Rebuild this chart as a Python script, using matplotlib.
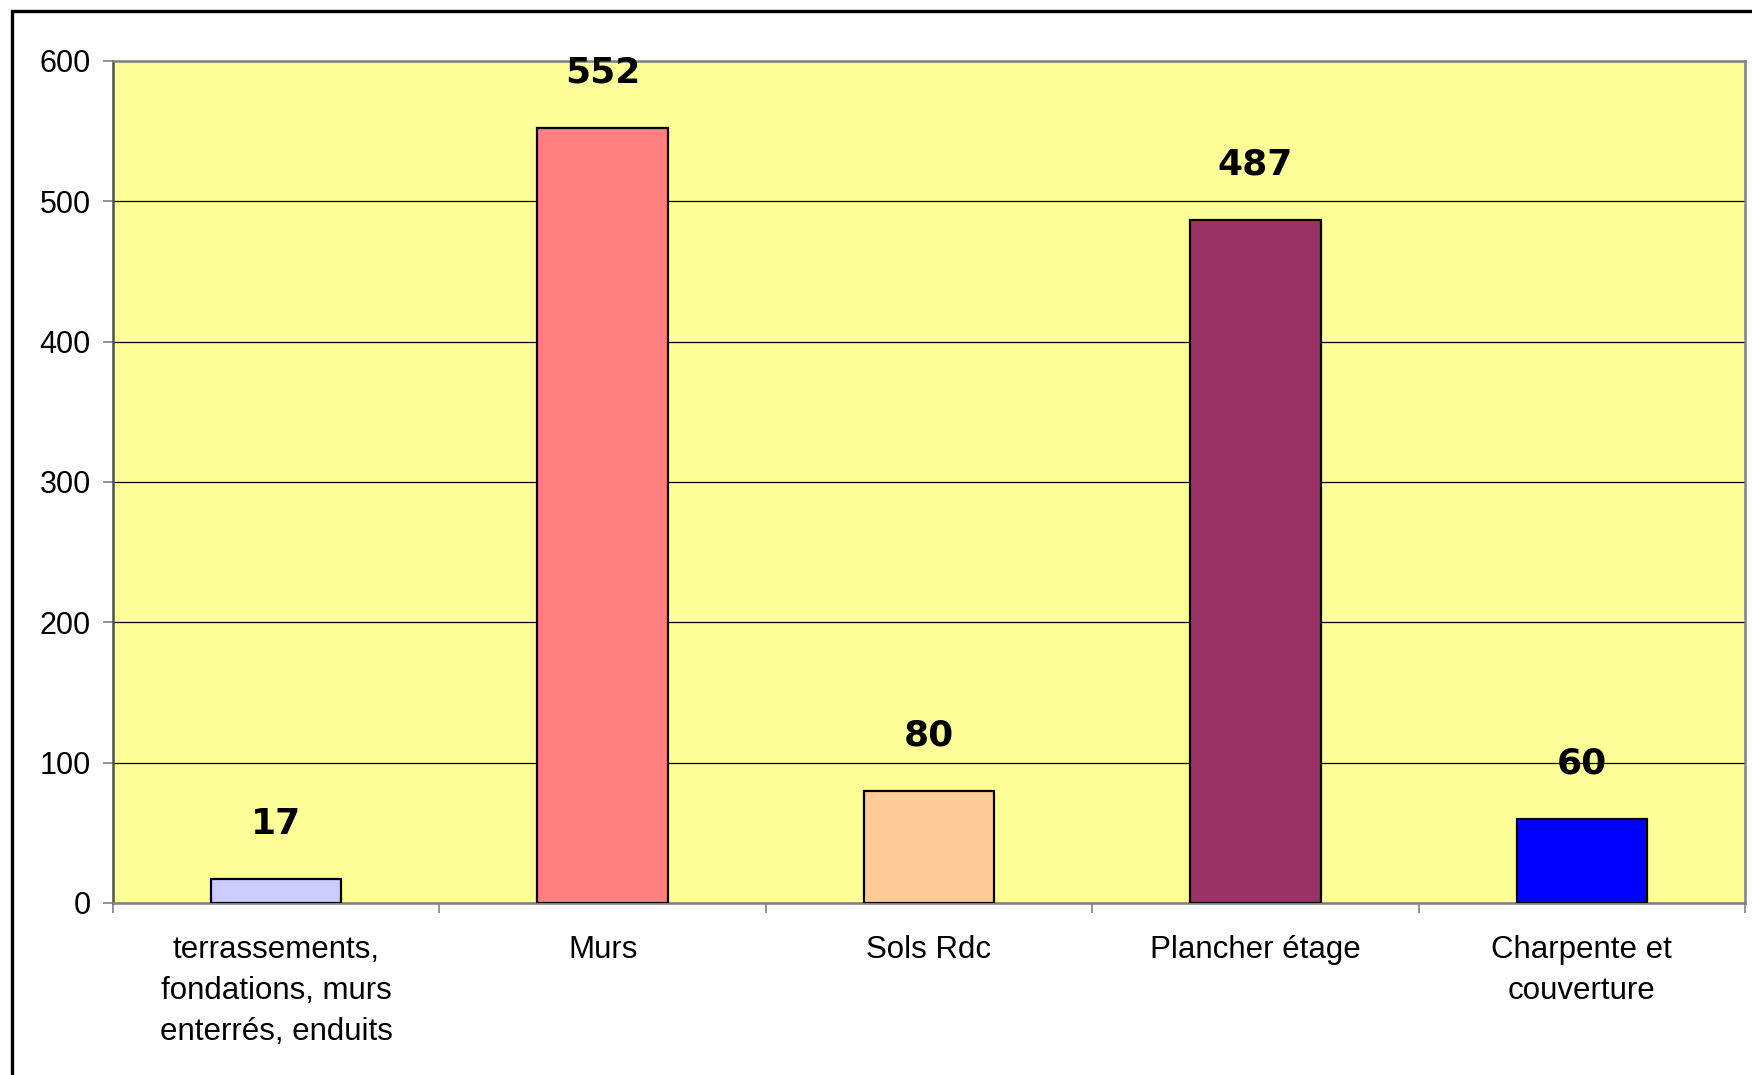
import matplotlib
matplotlib.use("Agg")
import matplotlib.pyplot as plt
from matplotlib.patches import Rectangle
import numpy as np

categories = ["terrassements,\nfondations, murs\nenterrés, enduits", "Murs", "Sols Rdc",
              "Plancher étage", "Charpente et\ncouverture"]
values = [17, 552, 80, 487, 60]
colors = ["#CCCCFF", "#FF8080", "#FFCC99", "#993366", "#0000FF"]
yticks = [0, 100, 200, 300, 400, 500, 600]

W, H = 1752, 1075
fig = plt.figure(figsize=(W / 100, H / 100), dpi=100)
ax = fig.add_axes([113 / W, 1 - 903 / H, (1745 - 113) / W, (903 - 61) / H])
ax.set_facecolor("#FFFF99")

x = np.arange(len(categories))
ax.bar(x, values, width=0.4, color=colors, edgecolor="black", linewidth=1.6, zorder=3)
ax.set_xlim(-0.5, len(categories) - 0.5)
ax.set_ylim(0, 600)
ax.set_yticks(yticks)
ax.set_yticklabels([str(t) for t in yticks], fontsize=22, family="Liberation Sans")
ax.yaxis.grid(True, color="black", linewidth=0.9, zorder=1)
ax.set_axisbelow(True)

ax.set_xticks(x)
ax.set_xticklabels(categories, fontsize=22.5, family="Liberation Sans", linespacing=1.48, va="top")
ax.set_xticks(np.arange(len(categories) + 1) - 0.5, minor=True)
ax.tick_params(axis="x", which="major", length=0, pad=23)
ax.tick_params(axis="x", which="minor", length=7, width=1.2, color="#808080", direction="out")
ax.tick_params(axis="y", length=7, width=1.2, color="#808080", direction="out", pad=9)

for side in ["left", "bottom", "top", "right"]:
    ax.spines[side].set_color("#808080")
    ax.spines[side].set_linewidth(1.8)
ax.spines["left"].set_color("#505050")

for xi, v in zip(x, values):
    ax.annotate(str(v), (xi, v), xytext=(0, 40), textcoords="offset points",
                ha="center", va="center", fontsize=26, fontweight="bold",
                family="DejaVu Sans", zorder=5)

frame = Rectangle((12 / W, -0.2), 1.5, 1.2 - 11 / H, transform=fig.transFigure,
                  fill=False, edgecolor="black", linewidth=2.4, clip_on=False)
fig.patches.append(frame)

fig.savefig("out.png", dpi=100)
